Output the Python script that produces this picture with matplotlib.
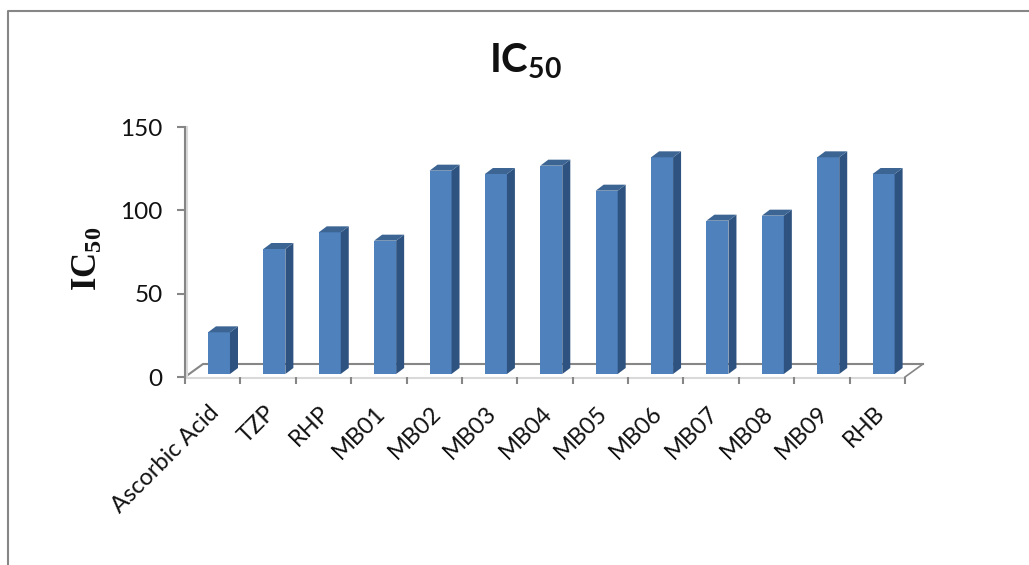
from matplotlib import pyplot as plt
from matplotlib.lines import Line2D
from matplotlib.patches import Polygon
from matplotlib.transforms import Affine2D

plt.rcParams['font.family'] = ['Lato', 'DejaVu Sans']
plt.rcParams['mathtext.fontset'] = 'custom'
plt.rcParams['mathtext.bf'] = 'Lato:bold'
plt.rcParams['mathtext.rm'] = 'Lato:bold'
plt.rcParams['mathtext.bfit'] = 'Liberation Serif:bold'

categories = ['Ascorbic Acid', 'TZP', 'RHP', 'MB01', 'MB02', 'MB03', 'MB04',
              'MB05', 'MB06', 'MB07', 'MB08', 'MB09', 'RHB']
values = [25, 75, 85, 80, 122, 120, 125, 110, 130, 92, 95, 130, 120]
y_ticks = [0, 50, 100, 150]

W, H = 1029, 565
GREY = '#868686'
FRONT = '#4f81bd'
SIDE = '#2f5380'
TOP = '#3d6594'

fig = plt.figure(figsize=(W / 100, H / 100), dpi=100)
ax = fig.add_axes([185 / W, (H - 377) / H, 720 / W, 250 / H])
ax.set_xlim(0, len(categories))
ax.set_ylim(0, 150)

# size of one pixel in data units
px_x = len(categories) / 720
px_y = 150 / 250

# outer frame of the chart, only top and left are visible
fig.add_artist(Line2D([8 / W, 8 / W, 1], [0, 1 - 11 / H, 1 - 11 / H],
                      color=GREY, lw=1.5))

# floor of the 3d box
floor_dx, floor_dy = 18 * px_x, 13 * px_y
n = len(categories)
ax.plot([0, floor_dx, n + floor_dx], [0, floor_dy, floor_dy], color=GREY, lw=1.5,
        clip_on=False, zorder=1)
ax.plot([n, n + floor_dx], [0, floor_dy], color=GREY, lw=1.2, clip_on=False, zorder=1)
ax.plot([0, n], [-0.8, -0.8], color='#d9d9d9', lw=1.5, clip_on=False, zorder=1)
ax.plot([2 * px_x, 2 * px_x], [0, 150], color='#d9d9d9', lw=1.5, clip_on=False, zorder=1)

# bars: front face, then the side and top faces
bar_w = 22 * px_x
shift = 6.3 * px_x
lift = 3 * px_y
depth_x, depth_y = 8 * px_x, 6 * px_y
for i, v in enumerate(values):
    left = i + 0.5 + shift - bar_w / 2
    right = left + bar_w
    top = v + lift
    ax.bar(left, v, width=bar_w, bottom=lift, align='edge', color=FRONT,
           linewidth=0, zorder=3, clip_on=False)
    ax.add_patch(Polygon([(right, lift), (right + depth_x, lift + depth_y),
                          (right + depth_x, top + depth_y), (right, top)],
                         color=SIDE, lw=0, zorder=3, clip_on=False))
    ax.add_patch(Polygon([(left, top), (left + depth_x, top + depth_y),
                          (right + depth_x, top + depth_y), (right, top)],
                         color=TOP, lw=0, zorder=3, clip_on=False))

# axes
for s in ['top', 'right', 'bottom']:
    ax.spines[s].set_visible(False)
ax.spines['left'].set_color(GREY)
ax.spines['left'].set_linewidth(1.5)
ax.set_yticks(y_ticks)
ax.tick_params(axis='y', length=6, width=1.5, color=GREY, labelsize=17.5, pad=10,
               labelcolor='#111111')
ax.set_xticks(range(n + 1))
ax.set_xticklabels([])
ax.tick_params(axis='x', which='major', length=5, width=1.5, color=GREY)
ax.set_xticks([i + 0.5 for i in range(n)], minor=True)
ax.set_xticklabels(categories, minor=True, rotation=45, ha='right',
                   rotation_mode='anchor', fontsize=17, color='#111111')
ax.tick_params(axis='x', which='minor', length=0, pad=18)
for label in ax.get_xticklabels(minor=True):
    label.set_transform(label.get_transform() + Affine2D().translate(-4, 0))

fig.text(526 / W, 1 - 61 / H, r'$\mathbf{IC}_{\mathbf{50}}$', fontsize=29, ha='center', va='center',
         color='#111111')
fig.text(87 / W, 1 - 259 / H, r'$\mathbfit{IC_{50}}$', fontsize=25, rotation=90,
         ha='center', va='center', color='#111111')

fig.savefig('out.png', dpi=100)
